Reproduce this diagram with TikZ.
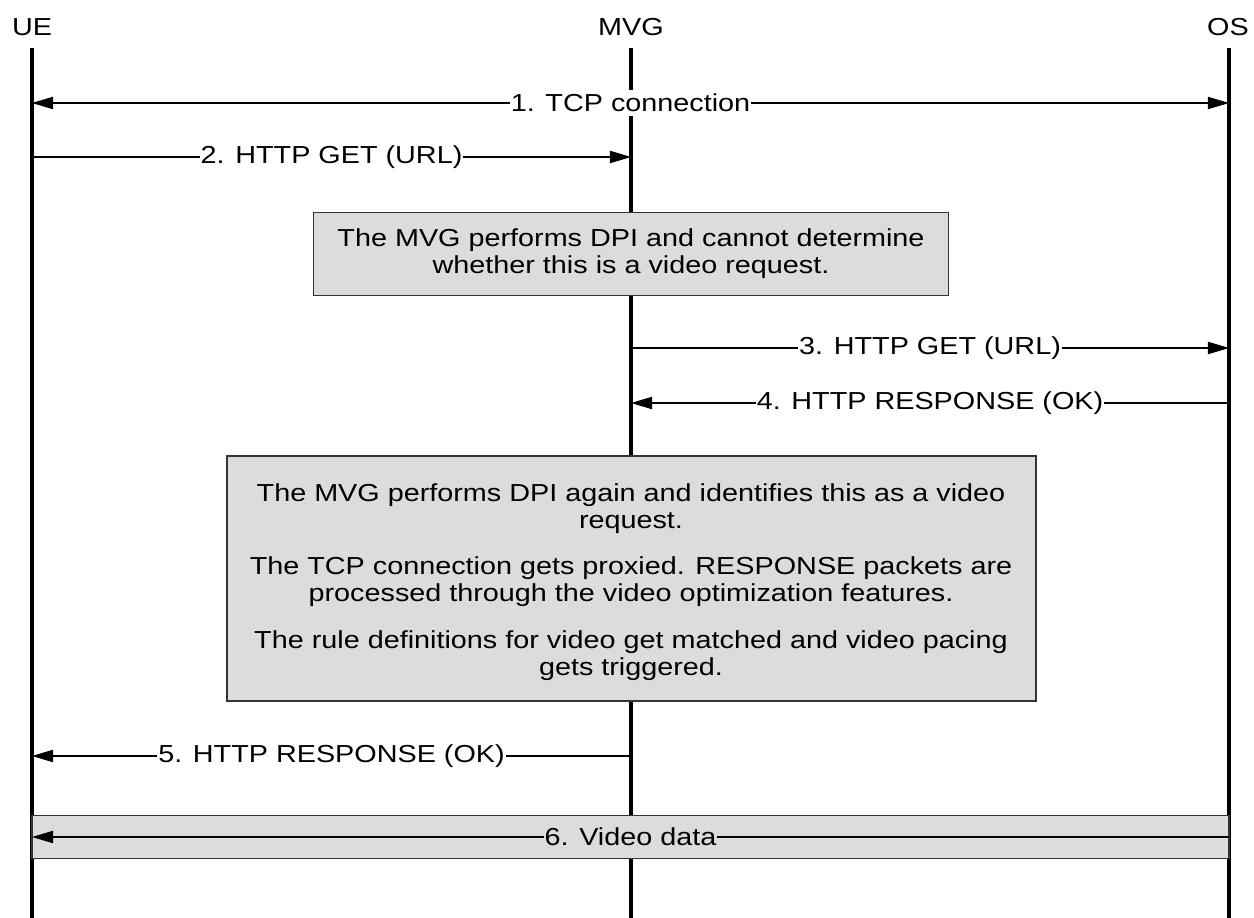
\documentclass[tikz,border=0pt]{standalone}
\usepackage{fontspec}
\setmainfont{Liberation Sans}[FakeStretch=1.17]
\usepackage{xcolor}
\usetikzlibrary{arrows.meta, positioning}
\definecolor{notegray}{HTML}{DCDCDC}

\begin{document}
\begin{tikzpicture}[x=0.02cm, y=-0.02cm,
    every node/.style={font=\fontsize{14}{15.3}\selectfont},
    life/.style={line width=1.8pt},
    msg/.style={line width=0.6pt, -{Triangle[length=12pt, width=7pt]}},
    twoway/.style={line width=0.6pt, {Triangle[length=12pt, width=7pt]}-{Triangle[length=12pt, width=7pt]}},
    lbl/.style={fill=white, inner xsep=0.5pt, inner ysep=2pt},
    note/.style={draw=black!80, fill=notegray, line width=0.9pt, align=center, inner sep=0pt}]

    \useasboundingbox (0,0) rectangle (1254,918);

    % participants
    \node (ue) at (32,27) {UE};
    \node (mvg) at (631,27) {MVG};
    \node (os) at (1228,27) {OS};

    \coordinate (ue-top) at (32,48);
    \coordinate (mvg-top) at (631,48);
    \coordinate (os-top) at (1229,48);
    \coordinate (ue-bot) at (32,918);
    \coordinate (mvg-bot) at (631,918);
    \coordinate (os-bot) at (1229,918);

    \draw[life] (ue-top) -- (ue-bot);
    \draw[life] (mvg-top) -- (mvg-bot);
    \draw[life] (os-top) -- (os-bot);

    % messages
    \coordinate (ue1) at (32,103);
    \coordinate (os1) at (1229,103);
    \draw[twoway] (ue1) -- (os1) node[lbl, pos=0.5] {1. TCP connection};

    \coordinate (ue2) at (32,157);
    \coordinate (mvg2) at (631,157);
    \draw[msg] (ue2) -- (mvg2) node[lbl, pos=0.5] {2. HTTP GET (URL)};

    \node[note, minimum width=12.7cm, minimum height=1.66cm] (dpi1) at (631,254)
        {The MVG performs DPI and cannot determine\\whether this is a video request.};

    \coordinate (mvg3) at (631,348);
    \coordinate (os3) at (1229,348);
    \draw[msg] (mvg3) -- (os3) node[lbl, pos=0.5] {3. HTTP GET (URL)};

    \coordinate (os4) at (1229,403);
    \coordinate (mvg4) at (631,403);
    \draw[msg] (os4) -- (mvg4) node[lbl, pos=0.5] {4. HTTP RESPONSE (OK)};

    \node[note, minimum width=16.18cm, minimum height=4.9cm] (dpi2) at (631.5,578.5) {};
    \node[align=center] (dpi2-text) at (631,582)
        {The MVG performs DPI again and identifies this as a video\\request.\\[11.3pt]
         The TCP connection gets proxied. RESPONSE packets are\\processed through the video optimization features.\\[11.3pt]
         The rule definitions for video get matched and video pacing\\gets triggered.};

    \coordinate (mvg5) at (631,756);
    \coordinate (ue5) at (32,756);
    \draw[msg] (mvg5) -- (ue5) node[lbl, pos=0.5] {5. HTTP RESPONSE (OK)};

    \node[note, minimum width=23.94cm, minimum height=0.86cm] (video) at (630.5,837) {};
    \coordinate (os6) at (1229,837);
    \coordinate (ue6) at (32,837);
    \draw[msg] (os6) -- (ue6) node[lbl, fill=notegray, pos=0.5] {6. Video data};
\end{tikzpicture}
\end{document}
